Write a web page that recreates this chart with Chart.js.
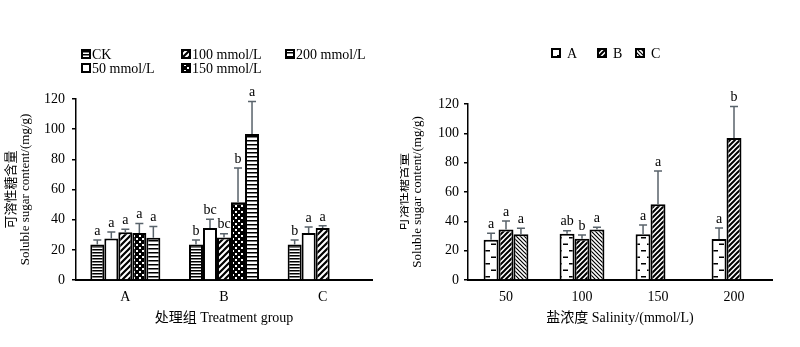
<!DOCTYPE html>
<html>
<head>
<meta charset="utf-8">
<script src="https://cdn.jsdelivr.net/npm/chart.js@4.4.0/dist/chart.umd.min.js"></script>
<style>
  body { margin: 0; background: #fff; }
  .fila { display: flex; width: 800px; height: 347px; }
  canvas { display: block; }
</style>
</head>
<body>
<div class="fila">
  <canvas id="graficoGrupo" width="400" height="347"></canvas>
  <canvas id="graficoSal" width="400" height="347"></canvas>
</div>
<script>
// ---- datos ----
const grupos = ["A", "B", "C"];
const salinidades = ["50", "100", "150", "200"];
const nombresTrat = ["CK", "50 mmol/L", "100 mmol/L", "150 mmol/L", "200 mmol/L"];

// medias por tratamiento en los grupos A, B, C
const mediaCK  = [23.5, 23.5, 23.5];
const media50  = [27.5, 34.5, 31.2];
const media100 = [31.6, 28.2, 34.5];
const media150 = [31.2, 51.6, null];
const media200 = [28.0, 96.8, null];

// desviacion (solo la parte de arriba)
const errCK  = [3.0, 3.0, 3.0];
const err50  = [4.3, 5.7, 4.0];
const err100 = [2.0, 2.5, 1.4];
const err150 = [6.3, 22.7, null];
const err200 = [7.5, 21.5, null];

// letras de significancia, grafico izquierdo
const letrasCK  = ["a", "b", "b"];
const letras50  = ["a", "bc", "a"];
const letras100 = ["a", "bc", "a"];
const letras150 = ["a", "b", ""];
const letras200 = ["a", "a", ""];

// letras de significancia, grafico derecho (por grupo, sobre 50..200)
const letrasA = ["a", "ab", "a", "a"];
const letrasB = ["a", "b", "a", "b"];
const letrasC = ["a", "a", "", ""];

const ejeMin = 0, ejeMax = 120, ejePaso = 20;

const fuente = "'Liberation Serif', 'Noto Sans CJK SC', serif";

// ---- tramas ----
function trama(tipo) {
  const c = document.createElement("canvas");
  const g = c.getContext("2d");
  let w = 8, h = 8;
  if (tipo === "hDensa") { w = 4; h = 3; }
  if (tipo === "hRala") { w = 4; h = 4; }
  if (tipo === "diag") { w = 6; h = 6; }
  if (tipo === "diagB") { w = 5; h = 5; }
  if (tipo === "diagInv") { w = 4; h = 4; }
  if (tipo === "cuadros") { w = 6; h = 6; }
  if (tipo === "guiones") { w = 12; h = 13; }
  c.width = w; c.height = h;
  g.fillStyle = "#fff";
  g.fillRect(0, 0, w, h);
  g.fillStyle = "#000";
  g.strokeStyle = "#000";
  if (tipo === "hDensa" || tipo === "hRala") {
    g.fillRect(0, 0, w, 1.5);
  } else if (tipo === "diag" || tipo === "diagB") {
    g.lineWidth = tipo === "diag" ? 2.2 : 2;
    g.beginPath();
    g.moveTo(-1, h + 1); g.lineTo(w + 1, -1);
    g.moveTo(-1, 1); g.lineTo(1, -1);
    g.moveTo(w - 1, h + 1); g.lineTo(w + 1, h - 1);
    g.stroke();
  } else if (tipo === "diagInv") {
    g.lineWidth = 1.2;
    g.beginPath();
    g.moveTo(-1, -1); g.lineTo(w + 1, h + 1);
    g.moveTo(w - 1, -1); g.lineTo(w + 1, 1);
    g.moveTo(-1, h - 1); g.lineTo(1, h + 1);
    g.stroke();
  } else if (tipo === "cuadros") {
    g.fillRect(0, 0, w, h);
    g.fillStyle = "#fff";
    g.fillRect(1, 1, 2, 2);
    g.fillRect(4, 4, 2, 2);
  } else if (tipo === "guiones") {
    g.fillRect(1, 3, 5, 1.5);
    g.fillRect(7, 9.5, 5, 1.5);
  }
  return g.createPattern(c, "repeat");
}

// ---- barras de error + letras ----
const pluginError = {
  id: "errores",
  afterDatasetsDraw(chart) {
    const { ctx } = chart;
    const ys = chart.scales.y;
    chart.data.datasets.forEach((ds, i) => {
      const meta = chart.getDatasetMeta(i);
      meta.data.forEach((barra, j) => {
        const v = ds.data[j];
        if (v == null) return;
        const yArriba = ys.getPixelForValue(v + ds.errores[j]);
        ctx.save();
        ctx.strokeStyle = "#59636b";
        ctx.lineWidth = 1.5;
        ctx.beginPath();
        ctx.moveTo(barra.x, barra.y);
        ctx.lineTo(barra.x, yArriba);
        ctx.moveTo(barra.x - 4, yArriba);
        ctx.lineTo(barra.x + 4, yArriba);
        ctx.stroke();
        ctx.fillStyle = "#000";
        ctx.font = "14px " + fuente;
        ctx.textAlign = "center";
        ctx.textBaseline = "bottom";
        ctx.fillText(ds.letras[j], barra.x, yArriba - 2);
        ctx.restore();
      });
    });
  }
};

// ---- leyenda a mano (columnas como en la figura) ----
const pluginLeyenda = {
  id: "leyendaManual",
  afterDraw(chart, args, opts) {
    const { ctx } = chart;
    chart.data.datasets.forEach((ds, i) => {
      const [x, y] = opts.pos[i];
      ctx.save();
      ctx.fillStyle = ds.backgroundColor;
      ctx.fillRect(x, y - 4, 8, 8);
      ctx.strokeStyle = "#000";
      ctx.lineWidth = 2;
      ctx.strokeRect(x, y - 4, 8, 8);
      ctx.fillStyle = "#000";
      ctx.font = "14px " + fuente;
      ctx.textBaseline = "middle";
      ctx.fillText(ds.label, x + opts.hueco, y + 1);
      ctx.restore();
    });
  }
};

function crearGrafico(id, etiquetas, datasets, o) {
  return new Chart(document.getElementById(id), {
    type: "bar",
    data: { labels: etiquetas, datasets: datasets },
    options: {
      responsive: false,
      animation: false,
      devicePixelRatio: 1,
      layout: { padding: { top: o.arriba, right: 28, left: 0, bottom: 0 } },
      datasets: {
        bar: {
          categoryPercentage: o.cat,
          barPercentage: 1,
          borderColor: "#000",
          borderWidth: 2
        }
      },
      plugins: {
        legend: { display: false },
        tooltip: { enabled: false },
        leyendaManual: { pos: o.leyenda, hueco: o.hueco }
      },
      scales: {
        x: {
          grid: { display: false, drawTicks: false },
          border: { display: true, color: "#000", width: 2 },
          ticks: { color: "#000", padding: 9, font: { family: fuente, size: 14 } },
          title: {
            display: true,
            text: o.tituloX,
            color: "#000",
            font: { family: fuente, size: 14 },
            padding: { top: 0, bottom: 20 }
          },
          afterFit: (s) => { s.height = 67; }
        },
        y: {
          min: ejeMin,
          max: ejeMax,
          grid: { drawOnChartArea: false, drawTicks: true, tickLength: 4, color: "#000", lineWidth: 1.5 },
          border: { display: true, color: "#000", width: 1.5 },
          ticks: { stepSize: ejePaso, color: "#000", padding: o.padTick, font: { family: fuente, size: 14 } },
          title: {
            display: true,
            text: ["可溶性糖含量", "Soluble sugar content/(mg/g)"],
            color: "#000",
            font: { family: fuente, size: 13, lineHeight: 1.08 },
            padding: { top: o.padTitulo, bottom: 0 }
          },
          afterFit: (s) => { s.width = o.anchoY; }
        }
      }
    },
    plugins: [pluginError, pluginLeyenda]
  });
}

// grafico izquierdo: por grupo de tratamiento
const dsGrupo = [
  { label: nombresTrat[0], data: mediaCK,  errores: errCK,  letras: letrasCK,  backgroundColor: trama("hDensa") },
  { label: nombresTrat[1], data: media50,  errores: err50,  letras: letras50,  backgroundColor: "#fff" },
  { label: nombresTrat[2], data: media100, errores: err100, letras: letras100, backgroundColor: trama("diag") },
  { label: nombresTrat[3], data: media150, errores: err150, letras: letras150, backgroundColor: trama("cuadros") },
  { label: nombresTrat[4], data: media200, errores: err200, letras: letras200, backgroundColor: trama("hRala") }
];
crearGrafico("graficoGrupo", grupos, dsGrupo, {
  arriba: 99, cat: 0.71, anchoY: 76, padTick: 7, padTitulo: 5, hueco: 10,
  tituloX: "处理组 Treatment group",
  leyenda: [[82, 54], [82, 68], [182, 54], [182, 68], [286, 54]]
});

// grafico derecho: por salinidad (mismos valores, transpuestos)
const medias = [media50, media100, media150, media200];
const errs = [err50, err100, err150, err200];
const porGrupo = (arr, g) => arr.map((fila) => fila[g]);
const dsSal = [
  { label: grupos[0], data: porGrupo(medias, 0), errores: porGrupo(errs, 0), letras: letrasA, backgroundColor: trama("guiones") },
  { label: grupos[1], data: porGrupo(medias, 1), errores: porGrupo(errs, 1), letras: letrasB, backgroundColor: trama("diagB") },
  { label: grupos[2], data: porGrupo(medias, 2), errores: porGrupo(errs, 2), letras: letrasC, backgroundColor: trama("diagInv") }
];
crearGrafico("graficoSal", salinidades, dsSal, {
  arriba: 104, cat: 0.59, anchoY: 68, padTick: 5, padTitulo: -3, hueco: 15,
  tituloX: "盐浓度 Salinity/(mmol/L)",
  leyenda: [[152, 53], [198, 53], [236, 53]]
});
</script>
</body>
</html>
